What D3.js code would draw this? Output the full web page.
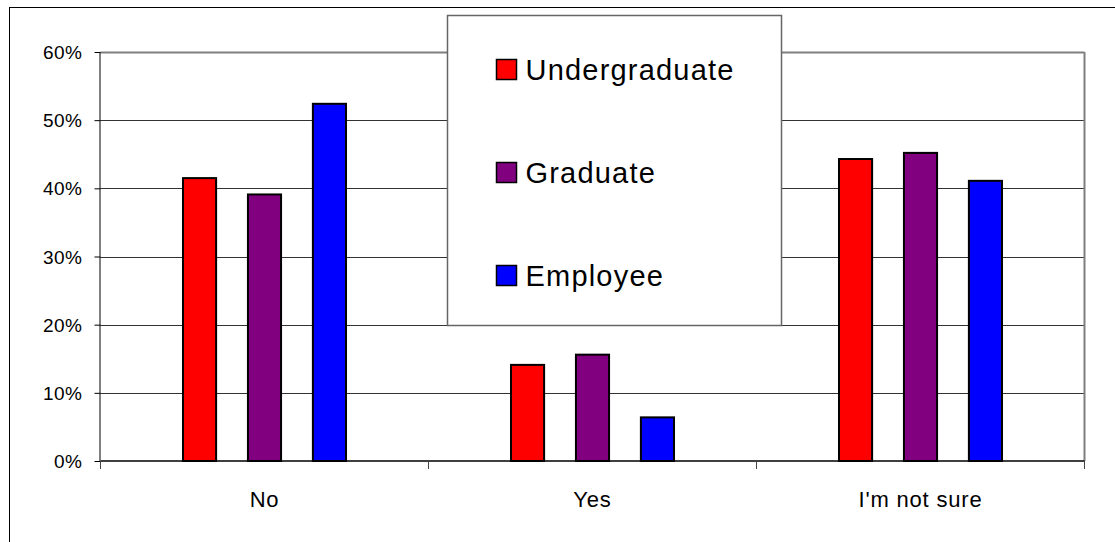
<!DOCTYPE html>
<html>
<head>
<meta charset="utf-8">
<script src="https://cdn.jsdelivr.net/npm/d3@7"></script>
<style>
  body { margin: 0; background: #fff; }
  text { font-family: "Liberation Sans", Arial, sans-serif; fill: #000; }
</style>
</head>
<body>
<svg id="chart" width="1115" height="542"></svg>
<script>
// Data.
const categories = ["No", "Yes", "I'm not sure"];
const seriesNames = ["Undergraduate", "Graduate", "Employee"];
const seriesColors = ["#ff0000", "#800080", "#0000ff"];
const undergraduate = [0.415, 0.141, 0.443];
const graduate = [0.391, 0.156, 0.452];
const employee = [0.524, 0.064, 0.411];
const yTicks = [0, 0.1, 0.2, 0.3, 0.4, 0.5, 0.6];

const seriesValues = [undergraduate, graduate, employee];

const svg = d3.select("#chart");

// Outer chart border (runs off the right and bottom edge).
svg.append("rect")
  .attr("x", 9.5).attr("y", 7.5)
  .attr("width", 1120).attr("height", 550)
  .attr("fill", "#fff")
  .attr("stroke", "#000")
  .attr("stroke-width", 1);

// Margin convention.
const margin = { top: 52, left: 100.5 };
const width = 984;
const height = 409;

const g = svg.append("g")
  .attr("transform", `translate(${margin.left}, ${margin.top})`);

// Scales.
const xScale = d3.scaleBand().domain(categories).range([0, width]);
const xInner = d3.scaleBand()
  .domain(seriesNames)
  .range([0, xScale.bandwidth()])
  .paddingInner(0.49)
  .paddingOuter(1.27);
const yScale = d3.scaleLinear().domain([0, 0.6]).range([height, 0]);

// Grid lines.
g.append("g")
  .selectAll("line")
  .data(yTicks.slice(1))
  .join("line")
  .attr("x1", 0).attr("x2", width)
  .attr("y1", (d) => Math.round(yScale(d)) + 0.5)
  .attr("y2", (d) => Math.round(yScale(d)) + 0.5)
  .attr("stroke", (d) => (d === 0.6 ? "#7f7f7f" : "#333"))
  .attr("stroke-width", (d) => (d === 0.6 ? 2 : 1));

// Plot area right border.
g.append("line")
  .attr("x1", width).attr("x2", width)
  .attr("y1", 0).attr("y2", height)
  .attr("stroke", "#7f7f7f")
  .attr("stroke-width", 2);

// Bars.
const groups = g.append("g")
  .selectAll("g")
  .data(categories)
  .join("g")
  .attr("transform", (d) => `translate(${xScale(d)}, 0)`);

groups.selectAll("rect")
  .data((d, i) => seriesNames.map((s, k) => ({ s, k, value: seriesValues[k][i] })))
  .join("rect")
  .attr("x", (d) => xInner(d.s))
  .attr("y", (d) => yScale(d.value))
  .attr("width", xInner.bandwidth())
  .attr("height", (d) => height - yScale(d.value))
  .attr("fill", (d) => seriesColors[d.k])
  .attr("stroke", "#000")
  .attr("stroke-width", 2);

// Y axis.
const yAxis = d3.axisLeft(yScale)
  .tickValues(yTicks)
  .tickSize(6)
  .tickPadding(12)
  .tickFormat(d3.format(".0%"));

const yAxisDraw = g.append("g").call(yAxis);
yAxisDraw.select(".domain").attr("stroke", "#000").attr("d", `M-0.5,0V${height}`);
yAxisDraw.selectAll("text")
  .style("font-size", "19px")
  .style("letter-spacing", "0.5px")
  .attr("fill", "#000")
  .attr("dy", "0.35em");

// X axis.
const boundaries = [0, 1, 2, 3].map((i) => i * xScale.step());
const xAxisDraw = g.append("g").attr("transform", `translate(0, ${height})`);
xAxisDraw.append("line")
  .attr("x1", 0).attr("x2", width)
  .attr("y1", 0).attr("y2", 0)
  .attr("stroke", "#000")
  .attr("stroke-width", 1.5);
xAxisDraw.selectAll(".tick-mark")
  .data(boundaries)
  .join("line")
  .attr("class", "tick-mark")
  .attr("x1", (d) => d).attr("x2", (d) => d)
  .attr("y1", 0).attr("y2", 8)
  .attr("stroke", "#444");
xAxisDraw.selectAll(".cat-label")
  .data(categories)
  .join("text")
  .attr("class", "cat-label")
  .attr("x", (d) => xScale(d) + xScale.bandwidth() / 2)
  .attr("y", 46)
  .attr("text-anchor", "middle")
  .style("font-size", "22px")
  .style("letter-spacing", "0.8px")
  .text((d) => d);

// Legend.
const legend = svg.append("g").attr("transform", "translate(447.5, 15.5)");
legend.append("rect")
  .attr("width", 334).attr("height", 310)
  .attr("fill", "#fff")
  .attr("stroke", "#666")
  .attr("stroke-width", 1.5);

const items = legend.selectAll(".item")
  .data(seriesNames)
  .join("g")
  .attr("class", "item")
  .attr("transform", (d, i) => `translate(49, ${54 + i * 103})`);

items.append("rect")
  .attr("x", 0).attr("y", -10)
  .attr("width", 20).attr("height", 20)
  .attr("fill", (d, i) => seriesColors[i])
  .attr("stroke", "#000")
  .attr("stroke-width", 1.5);

items.append("text")
  .attr("x", 29)
  .attr("dy", "0.36em")
  .style("font-size", "29px")
  .style("letter-spacing", "1.2px")
  .text((d) => d);
</script>
</body>
</html>
